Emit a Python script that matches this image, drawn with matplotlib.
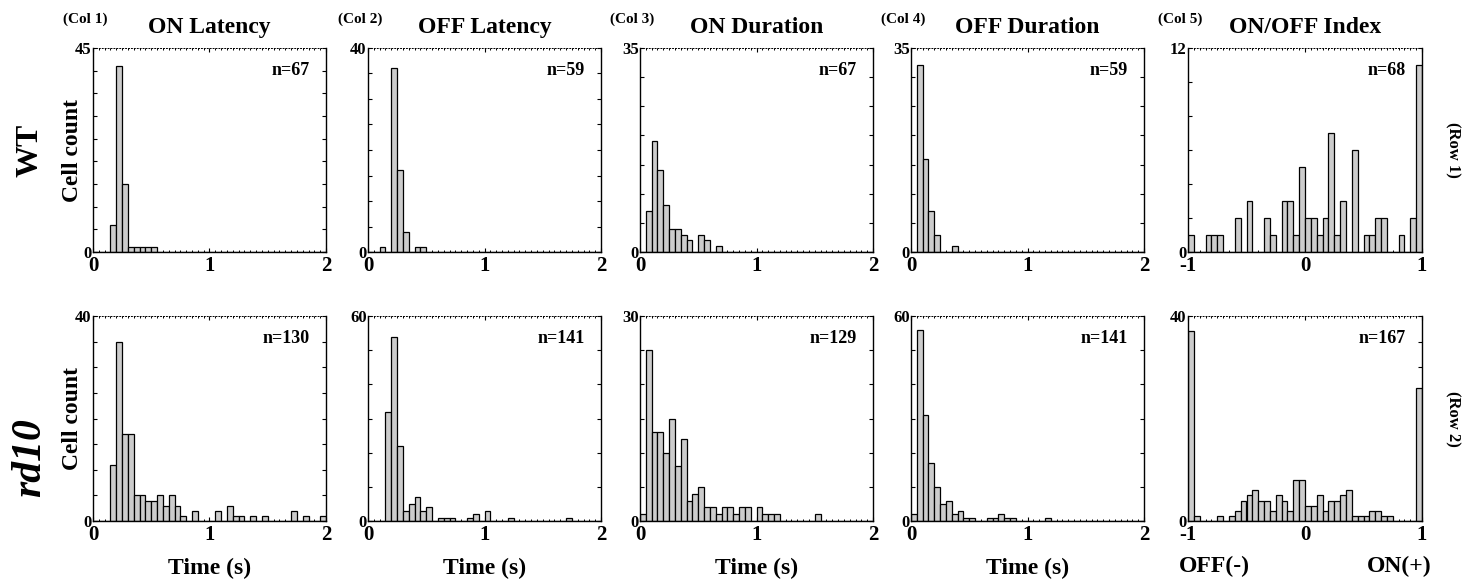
import numpy as np
import matplotlib
matplotlib.use("Agg")
import matplotlib.pyplot as plt
from matplotlib.ticker import MultipleLocator

plt.rcParams['font.family'] = ['Liberation Serif', 'DejaVu Serif']
plt.rcParams['font.weight'] = 'bold'

# histogram counts, 40 bins of 0.05 (time: 0..2 s, index: -1..1)
wt_on_lat = [0, 0, 0, 6, 41, 15, 1, 1, 1, 1, 1, 0, 0, 0, 0, 0, 0, 0, 0, 0,
             0, 0, 0, 0, 0, 0, 0, 0, 0, 0, 0, 0, 0, 0, 0, 0, 0, 0, 0, 0]
wt_off_lat = [0, 0, 1, 0, 36, 16, 4, 0, 1, 1, 0, 0, 0, 0, 0, 0, 0, 0, 0, 0,
              0, 0, 0, 0, 0, 0, 0, 0, 0, 0, 0, 0, 0, 0, 0, 0, 0, 0, 0, 0]
wt_on_dur = [0, 7, 19, 14, 8, 4, 4, 3, 2, 0, 3, 2, 0, 1, 0, 0, 0, 0, 0, 0,
             0, 0, 0, 0, 0, 0, 0, 0, 0, 0, 0, 0, 0, 0, 0, 0, 0, 0, 0, 0]
wt_off_dur = [0, 32, 16, 7, 3, 0, 0, 1, 0, 0, 0, 0, 0, 0, 0, 0, 0, 0, 0, 0,
              0, 0, 0, 0, 0, 0, 0, 0, 0, 0, 0, 0, 0, 0, 0, 0, 0, 0, 0, 0]
wt_index = [1, 0, 0, 1, 1, 1, 0, 0, 2, 0, 3, 0, 0, 2, 1, 0, 3, 3, 1, 5,
            2, 2, 1, 2, 7, 1, 3, 0, 6, 0, 1, 1, 2, 2, 0, 0, 1, 0, 2, 11]

rd_on_lat = [0, 0, 0, 11, 35, 17, 17, 5, 5, 4, 4, 5, 3, 5, 3, 1, 0, 2, 0, 0,
             0, 2, 0, 3, 1, 1, 0, 1, 0, 1, 0, 0, 0, 0, 2, 0, 1, 0, 0, 1]
rd_off_lat = [0, 0, 0, 32, 54, 22, 3, 5, 7, 3, 4, 0, 1, 1, 1, 0, 0, 1, 2, 0,
              3, 0, 0, 0, 1, 0, 0, 0, 0, 0, 0, 0, 0, 0, 1, 0, 0, 0, 0, 0]
rd_on_dur = [1, 25, 13, 13, 10, 15, 8, 12, 3, 4, 5, 2, 2, 1, 2, 2, 1, 2, 2, 0,
             2, 1, 1, 1, 0, 0, 0, 0, 0, 0, 1, 0, 0, 0, 0, 0, 0, 0, 0, 0]
rd_off_dur = [2, 56, 31, 17, 10, 5, 6, 2, 3, 1, 1, 0, 0, 1, 1, 2, 1, 1, 0, 0,
              0, 0, 0, 1, 0, 0, 0, 0, 0, 0, 0, 0, 0, 0, 0, 0, 0, 0, 0, 0]
rd_index = [37, 1, 0, 0, 0, 1, 0, 1, 2, 4, 5, 6, 4, 4, 2, 5, 4, 2, 8, 8,
            3, 3, 5, 2, 4, 4, 5, 6, 1, 1, 1, 2, 2, 1, 1, 0, 0, 0, 0, 26]

titles = ['ON Latency', 'OFF Latency', 'ON Duration', 'OFF Duration', 'ON/OFF Index']
col_tags = ['(Col 1)', '(Col 2)', '(Col 3)', '(Col 4)', '(Col 5)']
rows = [[wt_on_lat, wt_off_lat, wt_on_dur, wt_off_dur, wt_index],
        [rd_on_lat, rd_off_lat, rd_on_dur, rd_off_dur, rd_index]]
n_labels = [['n=67', 'n=59', 'n=67', 'n=59', 'n=68'],
            ['n=130', 'n=141', 'n=129', 'n=141', 'n=167']]
ymaxs = [[45, 40, 35, 35, 12], [40, 60, 30, 60, 40]]
ysteps = [[5, 5, 5, 5, 2], [5, 10, 5, 10, 5]]
row_names = ['WT', 'rd10']
row_tags = ['(Row 1)', '(Row 2)']

W, H = 1476, 585
fig = plt.figure(figsize=(W / 100, H / 100), dpi=100)

col_left = [93, 368, 640, 911, 1188]
col_w = [233, 233, 233, 233, 234]
row_top = [48, 316]
row_h = [204, 205]

for r in range(2):
    for c in range(5):
        x0, w = col_left[c], col_w[c]
        ax = fig.add_axes([x0 / W, 1 - (row_top[r] + row_h[r]) / H, w / W, row_h[r] / H])
        counts = np.array(rows[r][c])
        if c == 4:
            lo, hi = -1, 1
        else:
            lo, hi = 0, 2
        edges = lo + np.arange(40) * 0.05
        ax.bar(edges, counts, width=0.05, align='edge', color='#cccccc',
               edgecolor='black', linewidth=0.9, zorder=2)
        ax.set_xlim(lo, hi)
        ymax = ymaxs[r][c]
        ax.set_ylim(0, ymax)
        yt = np.arange(0, ymax + 0.1, ysteps[r][c])
        ax.set_yticks(yt)
        ax.set_yticklabels([str(int(v)) if v in (0, ymax) else '' for v in yt],
                           fontsize=12, fontweight='bold')
        ax.set_xticks([lo, (lo + hi) / 2, hi])
        ax.set_xticklabels([str(int(v)) for v in [lo, (lo + hi) / 2, hi]],
                           fontsize=15, fontweight='bold')
        ax.xaxis.set_minor_locator(MultipleLocator(0.05))
        ax.tick_params(axis='y', direction='in', length=3, width=0.8,
                       right=True, pad=1)
        ax.tick_params(axis='x', which='major', direction='in', length=3,
                       top=True, pad=3)
        ax.tick_params(axis='x', which='minor', direction='in', length=1.5,
                       width=0.7, top=True)
        for s in ['left', 'right', 'bottom']:
            ax.spines[s].set_linewidth(1.0)
        ax.spines['top'].set_linewidth(0.7)
        ax.spines['top'].set_linestyle((0, (1, 2)))
        ax.text(0.93, 0.93, n_labels[r][c], transform=ax.transAxes,
                ha='right', va='top', fontsize=13, fontweight='bold')
        if r == 0:
            ax.set_title(titles[c], fontsize=17, fontweight='bold', pad=11)
            ax.text(-0.13, 1.11, col_tags[c], transform=ax.transAxes,
                    ha='left', va='bottom', fontsize=11, fontweight='bold')
        if c == 0:
            ax.set_ylabel('Cell count', fontsize=17, fontweight='bold', labelpad=-6)
        if r == 1:
            if c < 4:
                ax.set_xlabel('Time (s)', fontsize=17, fontweight='bold', labelpad=9)
            else:
                ax.text(-0.04, -0.22, 'OFF(-)', transform=ax.transAxes,
                        ha='left', va='center', fontsize=17, fontweight='bold')
                ax.text(1.04, -0.22, 'ON(+)', transform=ax.transAxes,
                        ha='right', va='center', fontsize=17, fontweight='bold')
        if c == 4:
            ax.text(1.13, 0.5, row_tags[r], transform=ax.transAxes,
                    ha='center', va='center', rotation=270,
                    fontsize=12, fontweight='bold')

fig.text(30 / W, 1 - 150 / H, row_names[0], rotation=90, ha='center', va='center',
         fontsize=23, fontweight='bold')
fig.text(30 / W, 1 - 458 / H, row_names[1], rotation=90, ha='center', va='center',
         fontsize=30, fontweight='bold', style='italic')

fig.savefig('out.png', dpi=100)
